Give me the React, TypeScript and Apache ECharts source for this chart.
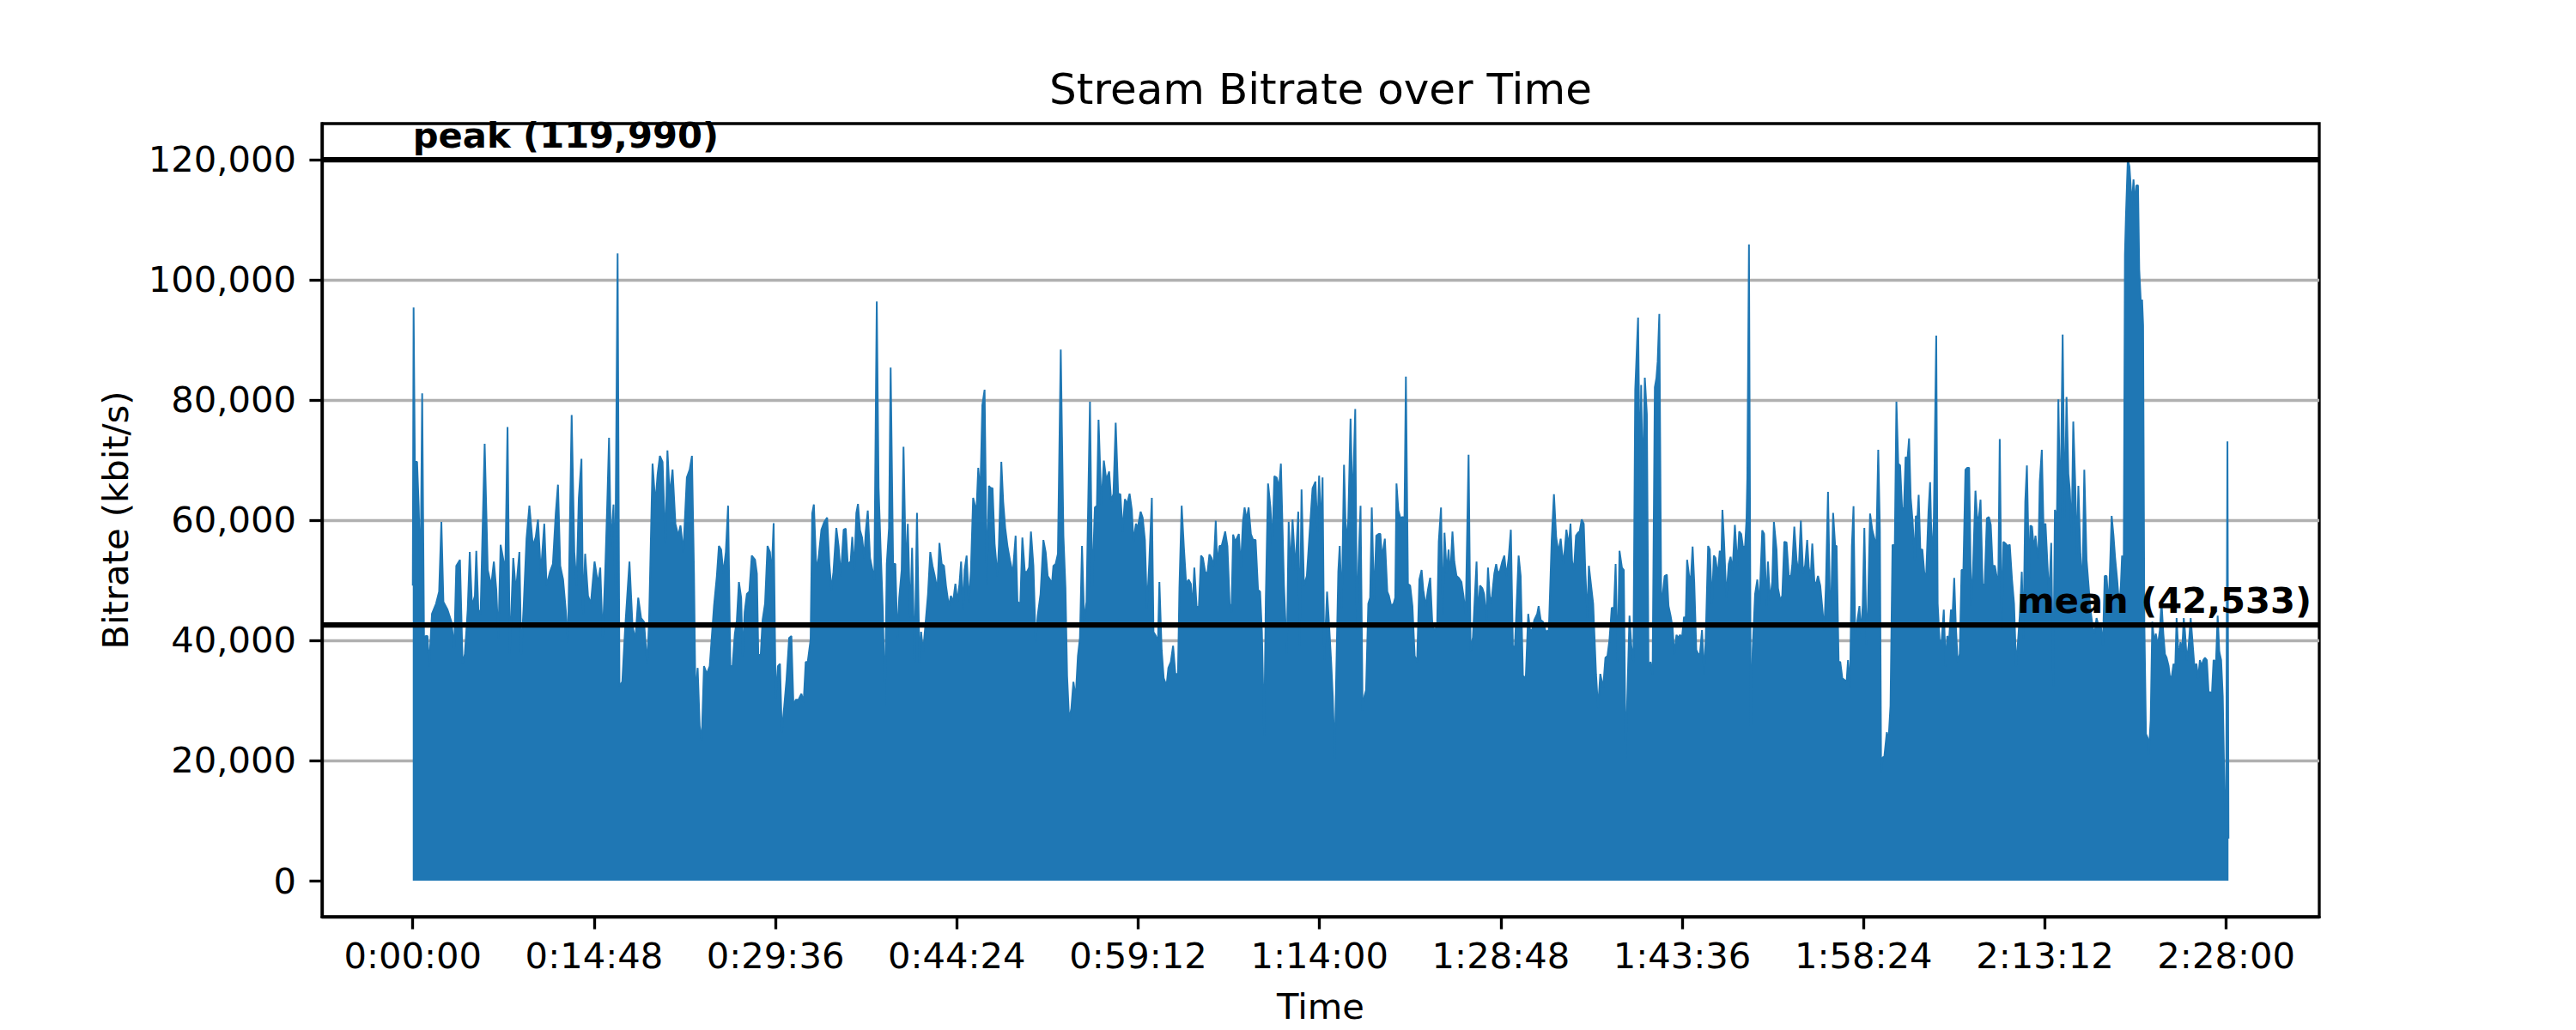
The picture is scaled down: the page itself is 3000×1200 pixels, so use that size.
import React, { useEffect, useRef } from "react";
import * as echarts from "echarts";

const TITLE = "Stream Bitrate over Time";
const X_LABEL = "Time";
const Y_LABEL = "Bitrate (kbit/s)";
const PEAK = 119990;
const MEAN = 42533;
const X_TICKS_S = [0, 888, 1776, 2664, 3552, 4440, 5328, 6216, 7104, 7992, 8880];
const Y_TICKS = [0, 20000, 40000, 60000, 80000, 100000, 120000];

// time in seconds
const TIME_S = [
  0, 4, 10, 21, 29, 38, 46, 55, 63, 72, 80, 94, 114, 129, 140, 150, 170, 189, 203, 213, 231, 244, 255, 269, 279, 290, 304, 311, 321, 332,
  352, 367, 384, 397, 409, 419, 430, 445, 453, 464, 475, 492, 505, 522, 531, 543, 557, 571, 588, 602, 613, 627, 644, 655, 672, 686, 700, 711, 722, 736,
  749, 760, 778, 791, 802, 813, 826, 834, 844, 858, 872, 890, 907, 918, 930, 942, 952, 961, 970, 983, 991, 1003, 1012, 1026, 1040, 1061, 1076, 1090, 1104, 1118,
  1132, 1148, 1157, 1174, 1188, 1199, 1210, 1223, 1237, 1247, 1258, 1272, 1286, 1300, 1311, 1325, 1342, 1356, 1367, 1377, 1384, 1395, 1405, 1415, 1426, 1440, 1454,
  1475, 1489, 1499, 1510, 1521, 1533, 1544, 1555, 1566, 1577, 1587, 1597, 1608, 1615, 1625, 1636, 1648, 1660, 1676, 1685, 1692, 1704, 1713, 1725, 1737, 1749, 1757, 1767,
  1777, 1788, 1798, 1807, 1819, 1830, 1843, 1854, 1864, 1875, 1889, 1903, 1914, 1924, 1934, 1948, 1956, 1964, 1976, 1987, 2001, 2015, 2029, 2040, 2050, 2060, 2074, 2085,
  2096, 2110, 2120, 2130, 2144, 2152, 2162, 2172, 2180, 2190, 2200, 2211, 2218, 2228, 2239, 2251, 2260, 2272, 2281, 2291, 2302, 2312, 2321, 2332, 2340, 2352, 2363, 2373,
  2382, 2394, 2403, 2415, 2424, 2436, 2445, 2457, 2469, 2481, 2489, 2499, 2513, 2523, 2534, 2545, 2556, 2569, 2579, 2590, 2601, 2611, 2625, 2635, 2646, 2657, 2667, 2677,
  2685, 2695, 2702, 2712, 2723, 2733, 2744, 2753, 2761, 2769, 2779, 2789, 2800, 2811, 2821, 2828, 2839, 2849, 2863, 2870, 2882, 2891, 2901, 2912, 2924, 2938,
  2952, 2961, 2975, 2985, 2997, 3008, 3018, 3027, 3039, 3050, 3060, 3074, 3088, 3099, 3109, 3120, 3130, 3137, 3148, 3159, 3173, 3186, 3196, 3204, 3214, 3225, 3235, 3246,
  3257, 3267, 3277, 3288, 3299, 3316, 3327, 3340, 3350, 3358, 3372, 3384, 3396, 3410, 3420, 3431, 3442, 3454, 3465, 3476, 3487, 3498, 3510, 3521, 3529, 3541, 3550, 3564,
  3574, 3585, 3595, 3606, 3619, 3627, 3639, 3649, 3656, 3667, 3677, 3691, 3700, 3712, 3723, 3734, 3747, 3754, 3765, 3776, 3787, 3799, 3810, 3818, 3827, 3838, 3849, 3860,
  3869, 3880, 3891, 3901, 3911, 3922, 3932, 3939, 3950, 3961, 3971, 3978, 3989, 4000, 4009, 4017, 4027, 4037, 4045, 4055, 4065, 4073, 4083, 4093, 4104, 4115, 4127, 4139,
  4149, 4158, 4169, 4177, 4188, 4200, 4209, 4219, 4230, 4242, 4251, 4266, 4280, 4289, 4298, 4308, 4322, 4336, 4343, 4352, 4364, 4378, 4392, 4406,
  4420, 4430, 4438, 4448, 4455, 4463, 4477, 4486, 4497, 4505, 4514, 4522, 4532, 4539, 4549, 4560, 4570, 4581, 4592, 4602, 4615, 4623, 4631, 4641, 4651, 4660, 4668, 4679,
  4688, 4696, 4707, 4718, 4730, 4738, 4746, 4760, 4772, 4780, 4791, 4803, 4811, 4817, 4826, 4836, 4847, 4856, 4863, 4873, 4884, 4895, 4906, 4918, 4929, 4940, 4948, 4960,
  4971, 4982, 4993, 5004, 5016, 5024, 5035, 5044, 5052, 5063, 5072, 5080, 5091, 5100, 5111, 5122, 5135, 5145, 5156, 5170, 5180, 5191, 5209, 5216, 5226, 5237, 5246, 5257,
  5265, 5276, 5285, 5296, 5305, 5314, 5324, 5335, 5345, 5355, 5366, 5377, 5387, 5397, 5408, 5415, 5425, 5436, 5450, 5462, 5471, 5481, 5492, 5506, 5513, 5523, 5534, 5548,
  5563, 5577, 5588, 5599, 5610, 5621, 5633, 5641, 5649, 5661, 5669, 5677, 5686, 5696, 5706, 5714, 5724, 5734, 5742, 5752, 5759, 5770, 5780, 5794, 5804, 5815, 5829, 5840,
  5850, 5860, 5871, 5882,
  5890, 5900, 5909, 5921, 5930, 5939, 5949, 5958, 5967, 5977, 5986, 5995, 6000, 6009, 6015, 6023, 6033, 6043, 6051, 6061, 6071, 6082, 6090, 6096, 6104, 6113, 6121, 6130,
  6141, 6149, 6159, 6169, 6177, 6188, 6197, 6205, 6215, 6225, 6233, 6240, 6250, 6259, 6267, 6275, 6285, 6295, 6303, 6313, 6323, 6331, 6343, 6351, 6362, 6371, 6379, 6390,
  6400, 6407, 6413, 6421, 6432, 6444, 6453, 6463, 6474, 6486, 6495, 6505, 6514, 6524, 6531, 6535, 6543, 6552, 6561, 6573, 6584, 6594, 6608, 6617, 6629, 6636, 6646, 6657,
  6665, 6678, 6685, 6696, 6706, 6716, 6727, 6738, 6749, 6755, 6765, 6776, 6786, 6797, 6808, 6818, 6828, 6836, 6845, 6853, 6864, 6874, 6881, 6892, 6902, 6912, 6920, 6930,
  6940, 6946, 6955, 6965, 6972, 6982, 6990, 7000, 7011, 7021, 7028, 7038, 7047, 7055, 7063, 7073, 7084, 7091, 7100, 7108, 7119, 7126, 7136, 7147, 7159, 7167, 7176, 7184,
  7190, 7198, 7206, 7218, 7226, 7236, 7246, 7257, 7265, 7274, 7283, 7293, 7302, 7310, 7319, 7327, 7335, 7344, 7355,
  7360, 7368, 7374, 7382, 7392, 7402, 7411, 7422, 7430, 7439, 7448, 7460, 7467, 7476, 7486, 7497, 7506, 7514, 7523, 7532, 7540, 7548, 7556, 7565, 7575, 7584, 7593, 7603,
  7612, 7621, 7631, 7640, 7652, 7660, 7669, 7677, 7687, 7697, 7708, 7718, 7727, 7736, 7747, 7757, 7764, 7771, 7781, 7789, 7799, 7809, 7820, 7831, 7841, 7851, 7859, 7869,
  7879, 7887, 7896, 7904, 7915, 7921, 7929, 7938, 7946, 7953, 7960, 7967, 7977, 7985, 7995, 8005, 8013, 8023, 8033, 8041, 8051, 8058, 8068, 8079, 8089, 8098, 8107, 8114,
  8123, 8131, 8140, 8149, 8156, 8166, 8176, 8185, 8196, 8206, 8215, 8227, 8235, 8245, 8255, 8266, 8276, 8285, 8294, 8304, 8311, 8319, 8328, 8336, 8346, 8356, 8364, 8370,
  8378, 8384, 8389, 8398, 8406, 8412, 8417, 8426, 8434, 8440, 8448, 8454, 8462, 8468, 8473, 8479, 8487, 8496, 8501, 8510, 8518, 8527, 8535, 8545, 8555, 8563, 8572, 8580,
  8588, 8598, 8605, 8614, 8622, 8630, 8637, 8647, 8656, 8664, 8672, 8678, 8687, 8696, 8706, 8715, 8724, 8734, 8743, 8751, 8759, 8768, 8776, 8785, 8794, 8801, 8810, 8818,
  8830, 8838, 8846, 8855, 8863, 8872, 8879, 8886, 8891,
];

// bitrate in kbit/s
const BITRATE_KBPS = [
  49100, 95400, 69700, 69700, 62400, 49700, 81100, 40400, 40700, 40700, 35700, 44400, 46100, 48100, 59700, 46400, 45100, 43100, 38700, 52400, 53400, 36100, 37700, 45100, 54700, 45700, 47400, 54900, 45100, 44400,
  72700, 51700, 49100, 53100, 48400, 40400, 55900, 53100, 51700, 75500, 37700, 53700, 48100, 54700, 37700, 45700, 56900, 62400, 55700, 57200, 60100, 51100, 59400, 49100, 51400, 52700, 61100, 65900, 52400, 50100,
  45100, 39700, 77500, 54700, 49100, 63700, 70200, 44400, 54400, 47400, 46100, 53100, 49400, 52100, 40400, 51100, 62400, 73700, 55700, 62600, 49100, 104400, 32400, 33100, 42100, 53100, 42400, 40100, 47100, 43700,
  43100, 36100, 43100, 69400, 62700, 67700, 70700, 69700, 56100, 71600, 64100, 68400, 59400, 57400, 59100, 54700, 67100, 68400, 70700, 51100, 30700, 35400, 25700, 23400, 35700, 34400, 35700,
  45700, 50700, 55700, 55100, 51100, 54700, 62400, 35700, 35700, 41100, 43400, 49700, 47100, 37400, 44700, 47700, 48100, 54100, 53400, 51100, 37400, 37700, 43400, 46100, 55700, 54700, 50700, 59500,
  30400, 35700, 36100, 24700, 29100, 33400, 40400, 40700, 29100, 30100, 30100, 31100, 29700, 36400, 36400, 40100, 61100, 62600, 51700, 53700, 58400, 59700, 60400, 52700, 48400, 51400, 58700, 55700,
  50700, 58400, 58600, 52700, 53100, 57200, 51700, 61200, 62700, 58300, 57100, 53700, 58100, 61600, 53700, 51700, 50100, 96400, 65400, 55100, 44700, 29100, 52700, 58700, 85400, 52700, 52700, 40400,
  47100, 51700, 72200, 51100, 59400, 43700, 55400, 36400, 61200, 36400, 41400, 38100, 43700, 47700, 54700, 52400, 50700, 48400, 56200, 52700, 52400, 49100, 45700, 47400, 46400, 49400, 46400, 49400,
  53100, 45100, 51700, 54100, 46400, 51600, 63700, 62400, 62100, 68700, 64400, 79100, 81700, 49400, 65700, 65400, 65300, 56100, 50700, 55700, 69700, 63100, 58700, 55700, 53400, 51100,
  57400, 46400, 46100, 57100, 51400, 51400, 52100, 58100, 52400, 39700, 44100, 47700, 56700, 54700, 50700, 50100, 49400, 52400, 52700, 54400, 88400, 57400, 48700, 34100, 26700, 28700, 33100, 30400,
  37400, 40400, 55700, 43100, 46400, 79700, 48700, 62100, 62400, 76700, 62400, 69900, 66700, 68100, 63100, 64400, 76200, 64400, 64300, 58100, 63500, 62700, 64400, 61700, 56400, 59400, 58700, 61400,
  60400, 56700, 45400, 52700, 63700, 41400, 40700, 39700, 49700, 38400, 33700, 32400, 35400, 36400, 39100, 34400, 34400, 48700, 62400, 55400, 49400, 50100, 49400, 45100, 52100, 45700, 45400, 54100,
  53700, 51400, 51100, 54300, 53700, 52400, 59900, 52700, 55700, 55700, 57100, 58100, 55700, 46100, 44700, 57600, 56400, 57100, 57700, 52100, 59700, 62100, 60100, 62100, 57700, 56700, 56700, 48400,
  48100, 41400, 24100, 46700, 66100, 62100, 55700, 67300, 67100, 65400, 69400, 49100, 37700, 59700, 51700, 60100, 51700, 61400, 39100, 65100, 49100, 50700, 58100, 65300,
  66400, 58100, 67400, 58400, 67100, 36700, 48100, 43100, 36400, 30700, 20400, 34400, 51400, 55700, 45400, 69200, 56100, 60100, 76900, 61700, 78500, 41700, 52700, 62400, 28400, 30700, 31700, 46100,
  47100, 62100, 46700, 57400, 57700, 57700, 53700, 56900, 48100, 47400, 45700, 46100, 47100, 66100, 61600, 60400, 60500, 60400, 83900, 49400, 49100, 45700, 37400, 36400, 50100, 51700, 48400, 45700,
  48400, 50400, 42400, 41700, 42400, 56400, 62100, 44400, 57900, 51100, 55100, 50400, 58100, 53100, 50700, 50400, 49700, 47400, 44400, 70900, 38100, 40400, 53100, 44100, 49100, 48700, 47700, 43400,
  52100, 46100, 47400, 51100, 52700, 51100, 51600, 53100, 54100, 50700, 53600, 58400, 38700, 39100, 48100, 54100, 50700, 34100, 33700, 44400, 41700, 41700, 43400, 44400, 45700, 43400, 43100, 41400,
  41700, 56700, 64300, 57100, 54700, 56900, 52700, 55100, 58400, 55700, 59400, 53100, 51700, 57400, 57900, 58100, 60100, 59400, 51100, 43700, 52400, 49100, 46100, 34400, 28700, 34400, 32100, 37100,
  37400, 40100, 45400, 45400,
  52700, 36400, 54900, 52100, 51700, 20400, 32700, 44100, 39100, 36400, 81700, 89400, 93700, 65100, 82500, 65100, 83700, 77600, 35700, 36400, 34400, 82100, 83700, 86400, 94300, 47700, 47700, 50700,
  50900, 45700, 44100, 42100, 37700, 40900, 40400, 40900, 40400, 43900, 43100, 53400, 50700, 50400, 55600, 49700, 38400, 37700, 37700, 41700, 34400, 40100, 55700, 55100, 46100, 54100, 53700, 50700,
  54900, 52400, 61700, 56500, 47100, 52700, 53900, 51700, 59200, 52400, 58100, 57700, 55400, 55700, 60100, 67100, 105900, 25700, 38400, 47700, 50100, 45700, 58300, 57700, 45700, 53100, 46700, 49700,
  59700, 55100, 48700, 46700, 47400, 56400, 56300, 50700, 50700, 52500, 58900, 53400, 51100, 59900, 51100, 52500, 56700, 52100, 50400, 56100, 49400, 49700, 50700, 49100, 45400, 41700, 49400, 64700,
  45700, 46400, 61200, 55700, 55700, 36400, 36400, 33700, 33400, 33100, 36700, 32100, 55700, 62300, 41100, 43100, 45700, 41100, 45700, 58700, 39400, 45700, 61100, 58300, 56700, 56400, 71700, 58400,
  18100, 20500, 20700, 24700, 23100, 29100, 55900, 55700, 79700, 69400, 69100, 61700, 62100, 70500, 70100, 73600, 63700, 59900, 53400,
  60700, 60400, 64200, 55100, 55100, 51100, 51100, 61400, 66300, 53100, 59700, 90700, 46100, 40100, 39700, 45100, 35700, 40700, 40100, 45100, 44400, 50400, 42400, 36400, 37700, 51700, 51700, 68400,
  68700, 68700, 45700, 51700, 64900, 60400, 60500, 63400, 49400, 49100, 60300, 60500, 59200, 52400, 52400, 50400, 50100, 73500, 41700, 56400, 56100, 55700, 55900, 50100, 46100, 35700, 39100, 44100,
  51400, 40400, 63100, 69100, 50100, 59100, 58900, 55200, 57400, 55100, 53700, 66400, 71700, 59100, 59400, 52400, 47100, 56200, 32400, 61700, 60300, 80100, 60100, 90900, 60300, 80500, 67700, 65100,
  57400, 76400, 66700, 54400, 65700, 54400, 48400, 68400, 53400, 49100, 45100, 42100, 41100, 43700, 42400, 42400, 39100, 50700, 50700, 45700, 52100, 60700, 57400, 53700, 50100, 45700, 49100, 54100,
  51700, 104100, 110700, 119990, 118900, 115700, 112100, 116700, 112400, 115700, 115700, 101700, 96100, 96700, 92400, 43100, 24400, 23700, 21100, 26700, 43100, 39700, 41100, 39100, 41700, 46400, 41100, 37700,
  37100, 35700, 33700, 34100, 36100, 35100, 43700, 37100, 39700, 38100, 43700, 41400, 36700, 39100, 43700, 39700, 35700, 36100, 33700, 36700, 35700, 36700, 37100, 36700, 31100, 31400, 31100, 36700,
  36400, 44100, 38100, 36700, 30700, 14000, 7000, 73100, 7000,
];

const W = 3000;
const H = 1200;
const GRID = { left: 375, right: 299, top: 144, bottom: 132 };
const FONT = '"DejaVu Sans", "Noto Sans", sans-serif';
const PT = 300 / 72;
const BLUE = "#1f77b4";

function fmtHMS(s: number): string {
  const h = Math.floor(s / 3600);
  const m = Math.floor((s % 3600) / 60);
  const sec = Math.round(s % 60);
  return `${h}:${String(m).padStart(2, "0")}:${String(sec).padStart(2, "0")}`;
}
const fmtNum = (v: number) => Math.round(v).toLocaleString("en-US");

export default function App() {
  const ref = useRef<HTMLDivElement>(null);
  useEffect(() => {
    document.body.style.margin = "0";
    const chart = echarts.init(ref.current!, null, { renderer: "svg", width: W, height: H });
    const tMin = Math.min(...TIME_S);
    const tMax = Math.max(...TIME_S);
    const xPad = (tMax - tMin) * 0.05;
    const yLo = 0;
    const yHi = Math.max(...BITRATE_KBPS, PEAK);
    const yPad = (yHi - yLo) * 0.05;
    const tickFont = 10 * PT;
    const lw = 0.8 * PT;
    const tickLen = 3.5 * PT;

    chart.setOption({
      animation: false,
      backgroundColor: "#ffffff",
      textStyle: { fontFamily: FONT },
      grid: {
        ...GRID,
        containLabel: false,
        outerBoundsMode: "none",
        show: true,
        borderColor: "#000000",
        borderWidth: lw,
        backgroundColor: "transparent",
      },
      xAxis: {
        type: "value",
        min: tMin - xPad,
        max: tMax + xPad,
        axisLine: { show: true, onZero: false, lineStyle: { color: "#000", width: lw } },
        axisTick: { show: true, inside: false, length: tickLen, lineStyle: { color: "#000", width: lw }, customValues: X_TICKS_S },
        axisLabel: {
          customValues: X_TICKS_S,
          formatter: (v: number) => fmtHMS(v),
          fontSize: tickFont,
          fontFamily: FONT,
          color: "#000",
          margin: 24,
          showMinLabel: true,
          showMaxLabel: true,
        },
        splitLine: { show: false },
        name: X_LABEL,
        nameLocation: "middle",
        nameGap: 82,
        nameMoveOverlap: false,
        nameTextStyle: { fontSize: tickFont, fontFamily: FONT, color: "#000", lineHeight: tickFont * 1.1 },
      },
      yAxis: {
        type: "value",
        min: yLo - yPad,
        max: yHi + yPad,
        splitNumber: 6,
        axisLine: { show: true, onZero: false, lineStyle: { color: "#000", width: lw } },
        axisTick: { show: true, inside: false, length: tickLen, lineStyle: { color: "#000", width: lw }, customValues: Y_TICKS },
        axisLabel: {
          customValues: Y_TICKS,
          formatter: (v: number) => fmtNum(v),
          fontSize: tickFont,
          fontFamily: FONT,
          color: "#000",
          margin: 30,
        },
        splitLine: { show: true, showMinLine: false, showMaxLine: false, lineStyle: { color: "#b0b0b0", width: lw } },
        name: Y_LABEL,
        nameLocation: "middle",
        nameGap: 220,
        nameRotate: 90,
        nameMoveOverlap: false,
        nameTextStyle: { fontSize: tickFont, fontFamily: FONT, color: "#000" },
      },
      series: [
        {
          type: "line",
          data: TIME_S.map((t, i) => [t, BITRATE_KBPS[i]]),
          symbol: "none",
          showSymbol: false,
          lineStyle: { color: BLUE, width: 2 },
          areaStyle: { color: BLUE, opacity: 1, origin: "auto" },
          z: 2,
          markLine: {
            silent: true,
            symbol: ["none", "none"],
            label: { show: false },
            lineStyle: { color: "#000", width: 1.5 * PT, type: "solid" },
            data: [{ yAxis: PEAK }, { yAxis: MEAN }],
          },
        },
      ],
    });

    const pPeak = chart.convertToPixel({ gridIndex: 0 }, [0, PEAK]) as number[];
    const pMean = chart.convertToPixel({ gridIndex: 0 }, [0, MEAN]) as number[];
    const plotCx = GRID.left + (W - GRID.left - GRID.right) / 2;
    const labelFont = `bold ${10 * PT}px ${FONT}`;
    chart.setOption({
      graphic: [
        {
          type: "text",
          x: plotCx,
          y: 104,
          style: { text: TITLE, font: `${12 * PT}px ${FONT}`, fill: "#000", align: "center", verticalAlign: "middle" },
        },
        {
          type: "text",
          x: pPeak[0],
          y: pPeak[1] - 8,
          z: 10,
          style: { text: `peak (${fmtNum(PEAK)})`, font: labelFont, fill: "#000", align: "left", verticalAlign: "bottom" },
        },
        {
          type: "text",
          x: W - GRID.right - 9,
          y: pMean[1] - 8,
          z: 10,
          style: { text: `mean (${fmtNum(MEAN)})`, font: labelFont, fill: "#000", align: "right", verticalAlign: "bottom" },
        },
      ],
    });

    return () => chart.dispose();
  }, []);
  return <div ref={ref} style={{ width: W, height: H }} />;
}
